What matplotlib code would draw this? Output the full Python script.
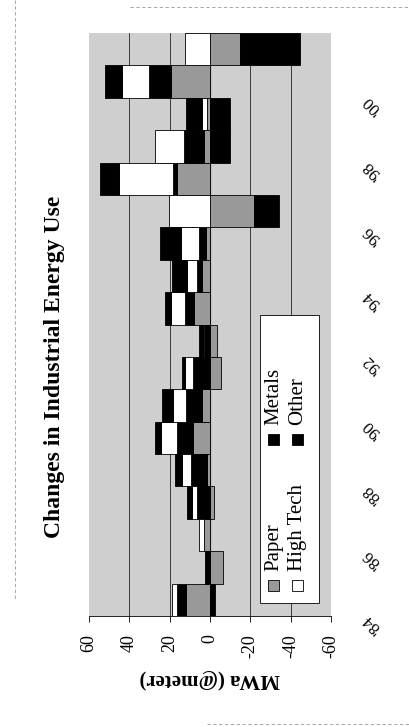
"""
Changes in industrial energy use by sector, 1984-2001, drawn as a
stacked horizontal bar chart turned on its side (values increase to the left).
"""

import numpy as np
import matplotlib.pyplot as plt
from matplotlib.patches import Rectangle
from matplotlib.lines import Line2D
from matplotlib.transforms import ScaledTranslation

years = list(range(1984, 2002))
year_labels = ["'84", "'86", "'88", "'90", "'92", "'94", "'96", "'98", "'00"]

# MWa change per sector and year
paper = [11.7, -6.3, 3.0, -1.8, 1.7, 8.5, 4.0, -5.5, -3.3,
         7.8, 4.2, 2.0, -21.7, 16.2, 3.0, 1.5, 19.2, -15.0]
metals = [4.5, 2.5, 0.0, 6.5, 7.8, 7.8, 8.0, 8.3, 3.0,
          4.5, 2.3, 3.3, -12.5, 2.2, 9.7, -9.7, 11.2, -29.5]
high_tech = [2.5, 0.0, 2.5, 2.2, 4.5, 8.0, 6.5, 4.2, 0.7,
             7.2, 4.7, 9.2, 20.5, 26.7, 14.7, 2.7, 13.3, 12.2]
other = [-2.5, 0.0, 0.0, 2.5, 3.2, 2.8, 5.5, 1.5, 1.8,
         3.0, 7.5, 10.5, 0.0, 9.5, -9.7, 7.8, 8.3, 0.0]

value_ticks = [60, 40, 20, 0, -20, -40, -60]

BG = "#cfcfcf"
PAPER_C = "#999999"
SERIF = "Liberation Serif"

series = [
    ("Paper", paper, PAPER_C),
    ("Metals", metals, "black"),
    ("High Tech", high_tech, "white"),
    ("Other", other, "black"),
]

W, H = 410, 727
fig = plt.figure(figsize=(W / 100, H / 100), dpi=100)
# plot area in pixels: x 89..331, y 33..616
ax = fig.add_axes([89 / W, 1 - 616 / H, 242 / W, 583 / H])
ax.set_facecolor(BG)

idx = np.arange(len(years))
pos_base = np.zeros(len(years))
neg_base = np.zeros(len(years))
for name, vals, col in series:
    v = np.array(vals)
    left = np.where(v >= 0, pos_base, neg_base)
    keep = v != 0
    ax.barh(idx[keep], v[keep], left=left[keep], height=1.0, color=col,
            edgecolor="black", linewidth=0.6, zorder=3)
    pos_base += np.clip(v, 0, None)
    neg_base += np.clip(v, None, 0)

ax.set_xlim(60, -60)
ax.set_ylim(-0.5, len(years) - 0.5)

for x in (40, 20, -20, -40):
    ax.axvline(x, color="#222222", lw=0.6, zorder=1)
ax.axvline(0, color="black", lw=0.8, zorder=2)

for s in ("top", "left", "right"):
    ax.spines[s].set_visible(False)
ax.spines["bottom"].set_linewidth(0.6)

# value axis along the bottom
ax.set_xticks(value_ticks)
ax.set_xticklabels([str(t) for t in value_ticks], rotation=90,
                   fontfamily=SERIF, fontsize=13)
ax.tick_params(axis="x", direction="out", length=4, width=0.6, pad=9)
ax.set_xlabel("MWa (@meter)", rotation=180, fontfamily=SERIF,
              fontsize=15, fontweight="bold", labelpad=8)

# year labels on the right, every other year
ax.yaxis.tick_right()
ax.set_yticks([years.index(1984 + 2 * i) for i in range(len(year_labels))])
ax.set_yticklabels(year_labels, rotation=135, fontfamily=SERIF, fontsize=12)
ax.tick_params(axis="y", length=0, pad=21)
shift = ScaledTranslation(0, -0.17, fig.dpi_scale_trans)
for lab in ax.get_yticklabels():
    lab.set_transform(lab.get_transform() + shift)

fig.text(55 / W, 1 - 367 / H, "Changes in Industrial Energy Use",
         rotation=90, ha="center", va="center", fontfamily=SERIF,
         fontsize=17, fontweight="bold")


# legend, laid out sideways like the rest of the chart
def axpt(px, py):
    return (px - 89) / 242, (616 - py) / 583


x0, y0 = axpt(260, 603)
x1, y1 = axpt(319, 315)
ax.add_patch(Rectangle((x0, y0), x1 - x0, y1 - y0, transform=ax.transAxes,
                       facecolor="white", edgecolor="black", lw=0.6, zorder=5))

legend_items = [
    ("Paper", PAPER_C, 274, 585),
    ("High Tech", "white", 298, 585),
    ("Metals", "black", 274, 439),
    ("Other", "black", 298, 439),
]
sw = 11
for label, col, cx, cy in legend_items:
    sx, sy = axpt(cx - sw / 2, cy + sw / 2)
    ax.add_patch(Rectangle((sx, sy), sw / 242, sw / 583, transform=ax.transAxes,
                           facecolor=col, edgecolor="black", lw=0.6, zorder=6))
    tx, ty = axpt(cx, cy - 14)
    ax.text(tx, ty, label, transform=ax.transAxes, rotation=90,
            rotation_mode="anchor", ha="left", va="center",
            fontfamily=SERIF, fontsize=15, zorder=6)

# faint page edges
for xs, ys in [((130, 410), (7, 7)), ((15, 15), (0, 600)), ((207, 410), (724, 724))]:
    fig.add_artist(Line2D([x / W for x in xs], [1 - y / H for y in ys],
                          color="#999999", lw=0.6, ls=(0, (4, 3))))

fig.savefig("out.png", dpi=100)
